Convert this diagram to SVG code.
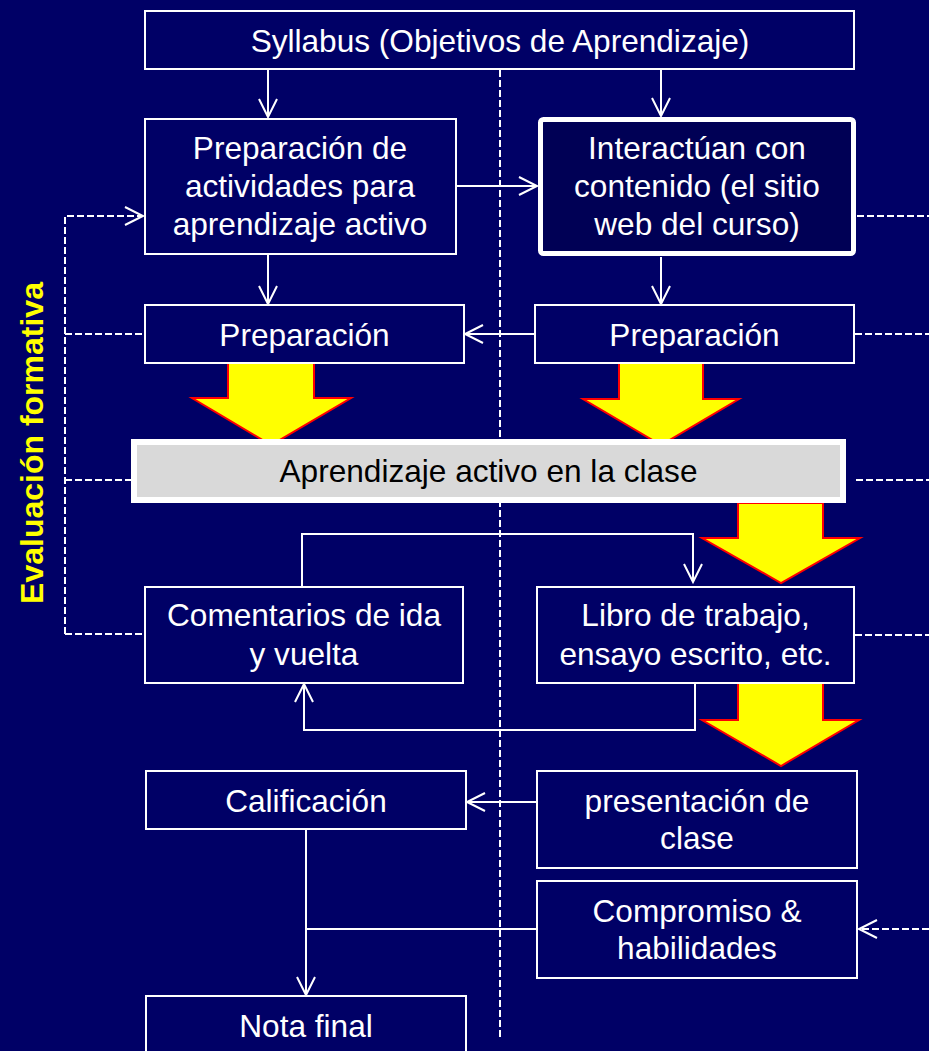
<svg xmlns="http://www.w3.org/2000/svg" width="929" height="1051" viewBox="0 0 929 1051">
<style>
.box{fill:none;stroke:#fff;stroke-width:2}
.t{font-family:"Liberation Sans",Arial,sans-serif;font-size:31.6px;fill:#fff;text-anchor:middle}
.ln{fill:none;stroke:#fff;stroke-width:2}
.ds{fill:none;stroke:#fff;stroke-width:2;stroke-dasharray:7,3}
.ya{fill:#ffff00;stroke:#ff0000;stroke-width:2;stroke-linejoin:miter}
</style>
<defs>
<marker id="ah" markerUnits="userSpaceOnUse" markerWidth="24" markerHeight="24" viewBox="-20 -12 24 24" refX="0" refY="0" orient="auto">
<path d="M -18 -9 L 0 0 L -18 9" fill="none" stroke="#fff" stroke-width="2"/>
</marker>
</defs>
<rect width="929" height="1051" fill="#000066"/>

<g id="divider">
<line class="ds" x1="500" y1="70" x2="500" y2="1040"/>
</g>

<g id="block-arrows">
<path class="ya" d="M228 363 L314 363 L314 398 L351 398 L271 445 L192 398 L228 398 Z"/>
<path class="ya" d="M619 363 L703 363 L703 399 L739 399 L661 445 L583 399 L619 399 Z"/>
<path class="ya" d="M738 503 L823 503 L823 538 L860 538 L781 583 L702 538 L738 538 Z"/>
<path class="ya" d="M738 683 L823 683 L823 720 L859 720 L781 766 L702 720 L738 720 Z"/>
</g>

<g id="connectors">
<line class="ln" x1="268" y1="70" x2="268" y2="117" marker-end="url(#ah)"/>
<line class="ln" x1="661" y1="70" x2="661" y2="116" marker-end="url(#ah)"/>
<line class="ln" x1="268" y1="255" x2="268" y2="304" marker-end="url(#ah)"/>
<line class="ln" x1="661" y1="257" x2="661" y2="304" marker-end="url(#ah)"/>
<line class="ln" x1="456" y1="186" x2="537" y2="186" marker-end="url(#ah)"/>
<line class="ln" x1="534" y1="334" x2="465" y2="334" marker-end="url(#ah)"/>
<polyline class="ln" points="302,586 302,534 693,534 693,582" marker-end="url(#ah)"/>
<polyline class="ln" points="695,683 695,730 304,730 304,684" marker-end="url(#ah)"/>
<line class="ln" x1="537" y1="802" x2="467" y2="802" marker-end="url(#ah)"/>
<line class="ln" x1="306" y1="830" x2="306" y2="995" marker-end="url(#ah)"/>
<line class="ln" x1="537" y1="929" x2="306" y2="929"/>
<polyline class="ds" points="65,634 65,216 143,216" marker-end="url(#ah)"/>
<line class="ds" x1="65" y1="334" x2="144" y2="334"/>
<line class="ds" x1="65" y1="480" x2="131" y2="480"/>
<line class="ds" x1="65" y1="634" x2="145" y2="634"/>
<line class="ds" x1="857" y1="216" x2="929" y2="216"/>
<line class="ds" x1="855" y1="334" x2="929" y2="334"/>
<line class="ds" x1="856" y1="480" x2="929" y2="480"/>
<line class="ds" x1="855" y1="635" x2="929" y2="635"/>
<line class="ds" x1="929" y1="929" x2="859" y2="929" marker-end="url(#ah)"/>
</g>

<g id="syllabus">
<rect class="box" x="145" y="11" width="709" height="58" fill="#000066"/>
<text class="t" x="500" y="52">Syllabus (Objetivos de Aprendizaje)</text>
</g>

<g id="prep-actividades">
<rect class="box" x="145" y="119" width="311" height="135"/>
<text class="t" x="300" y="159">Preparación de</text>
<text class="t" x="300" y="197">actividades para</text>
<text class="t" x="300" y="235">aprendizaje activo</text>
</g>

<g id="interactuan">
<rect x="540.5" y="119.5" width="313" height="134" rx="3" fill="#000055" stroke="#fff" stroke-width="5"/>
<text class="t" x="697" y="159">Interactúan con</text>
<text class="t" x="697" y="197">contenido (el sitio</text>
<text class="t" x="697" y="235">web del curso)</text>
</g>

<g id="prep-left">
<rect class="box" x="145" y="305" width="319" height="58"/>
<text class="t" x="304.5" y="346">Preparación</text>
</g>

<g id="prep-right">
<rect class="box" x="535" y="305" width="319" height="58"/>
<text class="t" x="694.5" y="346">Preparación</text>
</g>

<g id="aprendizaje">
<rect x="134" y="442" width="709" height="58" fill="#d9d9d9" stroke="#fff" stroke-width="6"/>
<text class="t" x="488.5" y="482" style="fill:#000">Aprendizaje activo en la clase</text>
</g>

<g id="comentarios">
<rect class="box" x="145" y="587" width="318" height="96"/>
<text class="t" x="304" y="626">Comentarios de ida</text>
<text class="t" x="304" y="665">y vuelta</text>
</g>

<g id="libro">
<rect class="box" x="537" y="587" width="317" height="96"/>
<text class="t" x="695.5" y="626">Libro de trabajo,</text>
<text class="t" x="695.5" y="665">ensayo escrito, etc.</text>
</g>

<g id="calificacion">
<rect class="box" x="146" y="771" width="320" height="58"/>
<text class="t" x="306" y="812">Calificación</text>
</g>

<g id="presentacion">
<rect class="box" x="537" y="771" width="320" height="97"/>
<text class="t" x="697" y="812">presentación de</text>
<text class="t" x="697" y="849">clase</text>
</g>

<g id="compromiso">
<rect class="box" x="537" y="881" width="320" height="97"/>
<text class="t" x="697" y="922">Compromiso &amp;</text>
<text class="t" x="697" y="959">habilidades</text>
</g>

<g id="nota-final">
<rect class="box" x="146" y="996" width="320" height="80"/>
<text class="t" x="306" y="1037">Nota final</text>
</g>

<g id="evaluacion-label">
<text transform="translate(43,443) rotate(-90)" style="font-family:'Liberation Sans',Arial,sans-serif;font-size:32px;font-weight:bold;fill:#ffff00;text-anchor:middle">Evaluación formativa</text>
</g>
</svg>
